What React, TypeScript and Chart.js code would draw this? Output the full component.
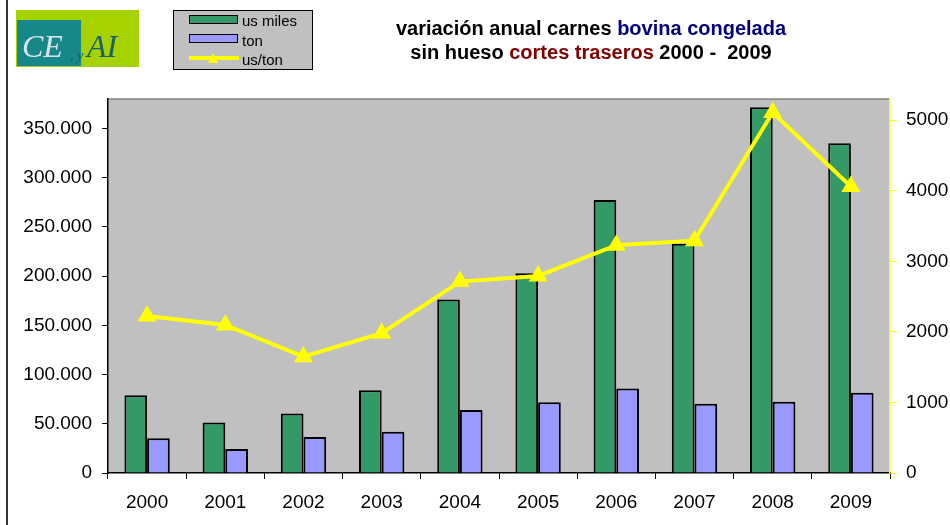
import React, { useEffect, useRef } from "react";
import { Chart, registerables } from "chart.js";

Chart.register(...registerables);

const years = ["2000", "2001", "2002", "2003", "2004", "2005", "2006", "2007", "2008", "2009"];
const usMiles = [79000, 51400, 60500, 84200, 176200, 202900, 277300, 233000, 371600, 335100];
const tons = [35200, 24300, 36500, 41900, 63900, 72000, 85900, 70300, 72300, 81500];
const usPerTon = [2226, 2098, 1649, 1980, 2712, 2793, 3228, 3293, 5108, 4059];
const leftTicks = [0, 50000, 100000, 150000, 200000, 250000, 300000, 350000];
const rightTicks = [0, 1000, 2000, 3000, 4000, 5000];
const leftMax = 380000;
const rightMax = 5300;

const FONT = "'Liberation Sans', Arial, sans-serif";

function fmtDots(v: number): string {
  return String(Math.round(v)).replace(/\B(?=(\d{3})+(?!\d))/g, ".");
}

const plotBg = {
  id: "plotBg",
  beforeDraw(chart: any) {
    const { ctx, chartArea } = chart;
    ctx.save();
    ctx.fillStyle = "#c0c0c0";
    ctx.fillRect(chartArea.left, chartArea.top, chartArea.right - chartArea.left, chartArea.bottom - chartArea.top);
    ctx.strokeStyle = "#808080";
    ctx.lineWidth = 1.5;
    ctx.beginPath();
    ctx.moveTo(chartArea.left, chartArea.top);
    ctx.lineTo(chartArea.right, chartArea.top);
    ctx.stroke();
    ctx.restore();
  },
};

export default function App() {
  const ref = useRef<HTMLCanvasElement | null>(null);

  useEffect(() => {
    if (!ref.current) return;
    const chart = new Chart(ref.current, {
      type: "bar",
      data: {
        labels: years,
        datasets: [
          {
            type: "line",
            label: "us/ton",
            data: usPerTon,
            yAxisID: "y1",
            borderColor: "#ffff00",
            backgroundColor: "#ffff00",
            borderWidth: 4,
            pointStyle: "triangle",
            pointRadius: 7,
            pointBackgroundColor: "#ffff00",
            pointBorderColor: "#ffff00",
            tension: 0,
            order: 0,
          } as any,
          {
            type: "bar",
            label: "us miles",
            data: usMiles,
            yAxisID: "y",
            backgroundColor: "#339966",
            borderColor: "#000000",
            borderWidth: 2,
            order: 1,
          },
          {
            type: "bar",
            label: "ton",
            data: tons,
            yAxisID: "y",
            backgroundColor: "#9999ff",
            borderColor: "#000000",
            borderWidth: 2,
            order: 1,
          },
        ],
      },
      options: {
        animation: false,
        responsive: false,
        maintainAspectRatio: false,
        layout: { padding: { top: 99, left: 0, right: 0, bottom: 0 } },
        datasets: { bar: { categoryPercentage: 0.58, barPercentage: 1 } },
        plugins: { legend: { display: false }, title: { display: false }, tooltip: { enabled: false } },
        scales: {
          x: {
            offset: true,
            grid: { display: true, drawOnChartArea: false, drawTicks: true, tickLength: 6, color: "#000", offset: true },
            border: { color: "#000", width: 1.5 },
            ticks: { color: "#000", font: { family: FONT, size: 19 }, padding: 12, maxRotation: 0 },
            afterFit: (s: any) => { s.height = 52; },
          },
          y: {
            position: "left",
            min: 0,
            max: leftMax,
            grid: { display: true, drawOnChartArea: false, drawTicks: true, tickLength: 6, color: "#000" },
            border: { color: "#000", width: 1.5 },
            ticks: {
              color: "#000",
              font: { family: FONT, size: 19 },
              padding: 10,
              callback: (v: any) => fmtDots(Number(v)),
            },
            afterBuildTicks: (s: any) => { s.ticks = leftTicks.map((v) => ({ value: v })); },
            afterFit: (s: any) => { s.width = 108; },
          },
          y1: {
            position: "right",
            min: 0,
            max: rightMax,
            grid: { display: true, drawOnChartArea: false, drawTicks: true, tickLength: 7, color: "#ffff00" },
            border: { color: "#ffff00", width: 1.5 },
            ticks: {
              color: "#000",
              font: { family: FONT, size: 19 },
              padding: 9,
              callback: (v: any) => String(v),
            },
            afterBuildTicks: (s: any) => { s.ticks = rightTicks.map((v) => ({ value: v })); },
            afterFit: (s: any) => { s.width = 60; },
          },
        },
      },
      plugins: [plotBg],
    } as any);
    return () => chart.destroy();
  }, []);

  return (
    <div style={{ position: "fixed", left: 0, top: 0, width: 950, height: 525, background: "#fff", overflow: "hidden", fontFamily: FONT }}>
      <canvas ref={ref} width={950} height={525} style={{ position: "absolute", left: 0, top: 0, width: 950, height: 525 }} />
      <div style={{ position: "absolute", left: 6, top: 0, width: 2, height: 525, background: "#333" }} />
      {/* logo */}
      <div style={{ position: "absolute", left: 16, top: 10, width: 123, height: 57, background: "#a6d200" }}>
        <div style={{ position: "absolute", left: 1, top: 10, width: 64, height: 46, background: "#17888a" }} />
        <div style={{ position: "absolute", left: 6, top: 14, fontFamily: "'Liberation Serif', serif", fontStyle: "italic", fontSize: 32, color: "#d8e4ec", lineHeight: "44px" }}>CE</div>
        <div style={{ position: "absolute", left: 54, top: 36, fontFamily: "'Liberation Serif', serif", fontStyle: "italic", fontSize: 14, color: "#1b5a6a", lineHeight: "20px" }}>, y</div>
        <div style={{ position: "absolute", left: 71, top: 14, fontFamily: "'Liberation Serif', serif", fontStyle: "italic", fontSize: 32, color: "#1b5f6e", lineHeight: "44px" }}>AI</div>
      </div>
      {/* legend */}
      <div style={{ position: "absolute", left: 173, top: 10, width: 138, height: 58, background: "#c0c0c0", border: "1px solid #000", fontSize: 15, color: "#000" }}>
        <div style={{ position: "absolute", left: 15, top: 4, width: 47, height: 7, background: "#339966", border: "1.5px solid #000" }} />
        <div style={{ position: "absolute", left: 68, top: 2, lineHeight: "16px" }}>us miles</div>
        <div style={{ position: "absolute", left: 15, top: 23, width: 47, height: 7, background: "#9999ff", border: "1.5px solid #000" }} />
        <div style={{ position: "absolute", left: 68, top: 22, lineHeight: "16px" }}>ton</div>
        <div style={{ position: "absolute", left: 15, top: 45, width: 50, height: 4, background: "#ffff00" }} />
        <div style={{ position: "absolute", left: 34, top: 42, width: 0, height: 0, borderLeft: "5px solid transparent", borderRight: "5px solid transparent", borderBottom: "10px solid #ffff00" }} />
        <div style={{ position: "absolute", left: 68, top: 41, lineHeight: "16px" }}>us/ton</div>
      </div>
      {/* title */}
      <div style={{ position: "absolute", left: 340, top: 16, width: 502, textAlign: "center", fontWeight: "bold", fontSize: 20, lineHeight: "24px", color: "#000" }}>
        <div>variación anual carnes <span style={{ color: "#000080" }}>bovina congelada</span></div>
        <div>sin hueso <span style={{ color: "#800000" }}>cortes traseros</span> 2000 -&nbsp; 2009</div>
      </div>
    </div>
  );
}
